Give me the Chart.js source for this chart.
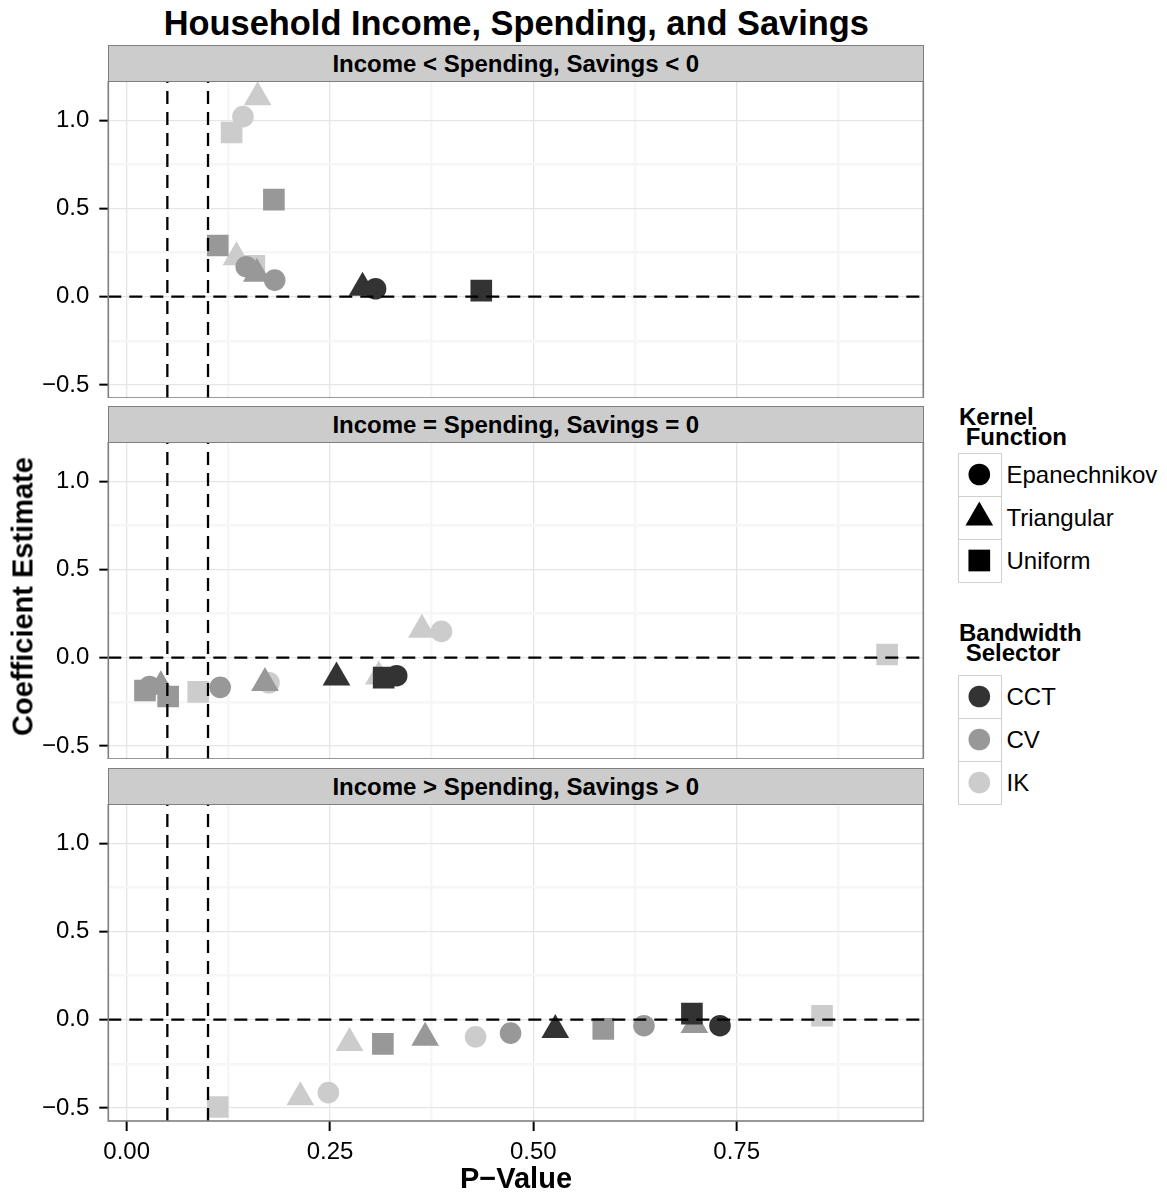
<!DOCTYPE html>
<html>
<head>
<meta charset="utf-8">
<script src="https://cdn.jsdelivr.net/npm/chart.js@4.4.0/dist/chart.umd.min.js"></script>
<style>
  body { margin: 0; background: #fff; }
  #fig { position: relative; width: 1167px; height: 1193px; overflow: hidden; font-family: "Liberation Sans", Arial, sans-serif; color: #000; }
  #fig canvas { position: absolute; left: 0; }
  .txt { position: absolute; white-space: pre; }
  .strip { position: absolute; box-sizing: border-box; border: 1.5px solid #7f7f7f; background: #cccccc; }
  .key { position: absolute; box-sizing: border-box; border: 1.5px solid #d0d0d0; background: #fff; }
  .key svg { position: absolute; left: 0; top: 0; }
</style>
</head>
<body>
<div id="fig"></div>
<script>
// ---- data ----
const stripLabels = ['Income < Spending, Savings < 0', 'Income = Spending, Savings = 0', 'Income > Spending, Savings > 0'];

// Income < Spending
const negPValue   = [0.161, 0.143, 0.129, 0.181, 0.112, 0.135, 0.157, 0.147, 0.160, 0.182, 0.290, 0.306, 0.436];
const negCoef     = [1.13, 1.02, 0.93, 0.55, 0.29, 0.223, 0.175, 0.17, 0.13, 0.094, 0.05, 0.045, 0.034];
const negKernel   = ['T', 'E', 'U', 'U', 'U', 'T', 'U', 'E', 'T', 'E', 'T', 'E', 'U'];
const negSelector = ['IK', 'IK', 'IK', 'CV', 'CV', 'IK', 'IK', 'CV', 'CV', 'CV', 'CCT', 'CCT', 'CCT'];

// Income = Spending
const zeroPValue   = [0.0225, 0.028, 0.042, 0.051, 0.088, 0.115, 0.170, 0.175, 0.258, 0.310, 0.316, 0.332, 0.363, 0.387, 0.935];
const zeroCoef     = [-0.186, -0.164, -0.162, -0.22, -0.194, -0.168, -0.143, -0.142, -0.112, -0.106, -0.113, -0.102, 0.158, 0.149, 0.018];
const zeroKernel   = ['U', 'E', 'T', 'U', 'U', 'E', 'T', 'E', 'T', 'T', 'U', 'E', 'T', 'E', 'U'];
const zeroSelector = ['CV', 'CV', 'CV', 'CV', 'IK', 'CV', 'CV', 'IK', 'CCT', 'IK', 'CCT', 'CCT', 'IK', 'IK', 'IK'];

// Income > Spending
const posPValue   = [0.112, 0.2135, 0.248, 0.274, 0.315, 0.367, 0.429, 0.472, 0.527, 0.586, 0.636, 0.698, 0.695, 0.7295, 0.855];
const posCoef     = [-0.495, -0.44, -0.413, -0.132, -0.137, -0.102, -0.097, -0.076, -0.058, -0.052, -0.034, -0.03, 0.034, -0.034, 0.022];
const posKernel   = ['U', 'T', 'E', 'T', 'U', 'T', 'E', 'E', 'T', 'U', 'E', 'T', 'U', 'E', 'U'];
const posSelector = ['IK', 'IK', 'IK', 'IK', 'CV', 'CV', 'IK', 'CV', 'CCT', 'CV', 'CV', 'CV', 'CCT', 'CCT', 'IK'];

const pCutoffs = [0.05, 0.10];
const zeroLine = 0;
const xRange = [-0.0226, 0.9795];
const yRange = [-0.574, 1.222];

const kernelNames = { E: 'Epanechnikov', T: 'Triangular', U: 'Uniform' };
const selectorNames = ['CCT', 'CV', 'IK'];

// ---- styles ----
const FONT = '"Liberation Sans", Arial, sans-serif';
const kernelShape = { E: 'circle', T: 'triangle', U: 'rect' };
const kernelRadius = { E: 10.8, T: 16, U: 15.3 };
const selectorColor = { CCT: '#333333', CV: '#989898', IK: '#cccccc' };
// first entry ends up on top
const drawOrder = [['CCT', 'U'], ['CCT', 'T'], ['CCT', 'E'], ['CV', 'U'], ['CV', 'T'], ['CV', 'E'], ['IK', 'U'], ['IK', 'T'], ['IK', 'E']];

const panelTops = [81, 442, 804];
const plotHeight = 317;
const xAxisSpace = 62;
const canvasWidth = 940;
const plotLeft = 108.3, plotRight = 923.3;

const fig = document.getElementById('fig');

function addText(txt, x, cy, size, opts) {
  opts = opts || {};
  const d = document.createElement('div');
  const lh = Math.round(size * 1.2);
  d.className = 'txt';
  d.textContent = txt;
  d.style.fontSize = size + 'px';
  d.style.lineHeight = lh + 'px';
  d.style.height = lh + 'px';
  d.style.top = (cy - lh / 2) + 'px';
  d.style.fontWeight = opts.bold ? 'bold' : 'normal';
  if (opts.center) {
    d.style.left = (x - 400) + 'px';
    d.style.width = '800px';
    d.style.textAlign = 'center';
  } else {
    d.style.left = x + 'px';
  }
  if (opts.rotate) d.style.transform = 'rotate(-90deg)';
  fig.appendChild(d);
  return d;
}

function isMajor(v, step) {
  return Math.abs(v / step - Math.round(v / step)) < 1e-6;
}

const refLines = {
  id: 'refLines',
  afterDatasetsDraw(chart) {
    const { ctx, chartArea: a, scales: { x, y } } = chart;
    ctx.save();
    ctx.beginPath();
    ctx.rect(a.left, a.top, a.width, a.height);
    ctx.clip();
    ctx.strokeStyle = '#000';
    ctx.lineWidth = 2.3;
    ctx.setLineDash([13, 8]);
    pCutoffs.forEach(v => {
      const px = x.getPixelForValue(v);
      ctx.beginPath();
      ctx.moveTo(px, a.bottom);
      ctx.lineTo(px, a.top);
      ctx.stroke();
    });
    const py = y.getPixelForValue(zeroLine);
    ctx.beginPath();
    ctx.moveTo(a.left, py);
    ctx.lineTo(a.right, py);
    ctx.stroke();
    ctx.restore();
  },
  afterDraw(chart) {
    const { ctx, chartArea: a } = chart;
    ctx.save();
    ctx.strokeStyle = '#7f7f7f';
    ctx.lineWidth = 1.6;
    ctx.strokeRect(a.left, a.top, a.width, a.height);
    ctx.restore();
  }
};

function makePanel(i, pvals, coefs, kerns, sels) {
  const showX = i === panelTops.length - 1;
  const canvas = document.createElement('canvas');
  canvas.width = canvasWidth;
  canvas.height = plotHeight + (showX ? xAxisSpace : 0);
  canvas.style.top = panelTops[i] + 'px';
  fig.appendChild(canvas);

  const datasets = drawOrder.map(([sel, k]) => {
    const pts = [];
    pvals.forEach((p, j) => {
      if (sels[j] === sel && kerns[j] === k) pts.push({ x: p, y: coefs[j] });
    });
    return {
      label: sel + ' / ' + kernelNames[k],
      data: pts,
      pointStyle: kernelShape[k],
      pointRadius: kernelRadius[k],
      pointHoverRadius: kernelRadius[k],
      backgroundColor: selectorColor[sel],
      borderColor: selectorColor[sel],
      pointBorderWidth: 0,
      borderWidth: 0,
      clip: 0
    };
  });

  new Chart(canvas, {
    type: 'scatter',
    data: { datasets },
    options: {
      responsive: false,
      devicePixelRatio: 1,
      animation: false,
      events: [],
      layout: { autoPadding: false, padding: { left: 0, right: canvasWidth - plotRight, top: 0, bottom: 0 } },
      plugins: { legend: { display: false }, tooltip: { enabled: false } },
      scales: {
        x: {
          type: 'linear',
          min: xRange[0],
          max: xRange[1],
          border: { display: false },
          ticks: {
            display: showX,
            stepSize: 0.125,
            includeBounds: false,
            autoSkip: false,
            maxRotation: 0,
            padding: 7,
            color: '#000',
            font: { family: FONT, size: 24 },
            callback: v => isMajor(v, 0.25) ? v.toFixed(2) : ''
          },
          grid: {
            color: c => isMajor(c.tick.value, 0.25) ? '#e5e5e5' : '#f6f6f6',
            lineWidth: c => isMajor(c.tick.value, 0.25) ? 1.3 : 2.4,
            drawTicks: showX,
            tickLength: 10,
            tickWidth: 2,
            tickColor: c => isMajor(c.tick.value, 0.25) ? '#000' : 'rgba(0,0,0,0)'
          },
          afterFit: s => { s.height = showX ? xAxisSpace : 0; s.paddingLeft = 0; s.paddingRight = 0; }
        },
        y: {
          type: 'linear',
          min: yRange[0],
          max: yRange[1],
          border: { display: false },
          ticks: {
            stepSize: 0.25,
            includeBounds: false,
            padding: 10,
            color: '#000',
            font: { family: FONT, size: 24 },
            callback: v => isMajor(v, 0.5) ? (v < 0 ? '\u2212' : '') + Math.abs(v).toFixed(1) : ''
          },
          grid: {
            color: c => isMajor(c.tick.value, 0.5) ? '#e5e5e5' : '#f6f6f6',
            lineWidth: c => isMajor(c.tick.value, 0.5) ? 1.3 : 2.4,
            tickLength: 9,
            tickWidth: 2,
            tickColor: c => isMajor(c.tick.value, 0.5) ? '#000' : 'rgba(0,0,0,0)'
          },
          afterFit: s => { s.width = plotLeft; s.paddingTop = 0; s.paddingBottom = 0; }
        }
      }
    },
    plugins: [refLines]
  });

  // facet strip
  const strip = document.createElement('div');
  strip.className = 'strip';
  strip.style.left = (plotLeft - 0.8) + 'px';
  strip.style.width = (plotRight - plotLeft + 1.6) + 'px';
  strip.style.top = (panelTops[i] - 36.3) + 'px';
  strip.style.height = '37px';
  fig.appendChild(strip);
  addText(stripLabels[i], (plotLeft + plotRight) / 2, panelTops[i] - 17.9, 24, { bold: true, center: true });
}

makePanel(0, negPValue, negCoef, negKernel, negSelector);
makePanel(1, zeroPValue, zeroCoef, zeroKernel, zeroSelector);
makePanel(2, posPValue, posCoef, posKernel, posSelector);

// titles
addText('Household Income, Spending, and Savings', 516.3, 23.3, 34.4, { bold: true, center: true });
addText('P\u2212Value', 516, 1178, 29, { bold: true, center: true });
addText('Coefficient Estimate', 22.5, 596.5, 29, { bold: true, center: true, rotate: true });

// legends
function keyBox(top, shape, color) {
  const b = document.createElement('div');
  b.className = 'key';
  b.style.left = '958.3px';
  b.style.top = top + 'px';
  b.style.width = '43.6px';
  b.style.height = '44px';
  const cx = 21.8, cy = 22;
  let s;
  if (shape === 'circle') s = '<circle cx="' + cx + '" cy="' + cy + '" r="10.8" fill="' + color + '"/>';
  else if (shape === 'triangle') s = '<polygon points="' + cx + ',' + (cy - 16) + ' ' + (cx + 13.86) + ',' + (cy + 8) + ' ' + (cx - 13.86) + ',' + (cy + 8) + '" fill="' + color + '"/>';
  else s = '<rect x="' + (cx - 10.85) + '" y="' + (cy - 10.85) + '" width="21.7" height="21.7" fill="' + color + '"/>';
  b.innerHTML = '<svg width="44" height="44" viewBox="1.5 1.5 44 44">' + s + '</svg>';
  fig.appendChild(b);
}

addText('Kernel', 959, 416, 24, { bold: true });
addText(' Function', 959, 436.8, 24, { bold: true });
const kernelKeyTops = [453.3, 496.1, 538.9];
['E', 'T', 'U'].forEach((k, j) => {
  keyBox(kernelKeyTops[j], kernelShape[k], '#000');
  addText(kernelNames[k], 1006.5, kernelKeyTops[j] + 21.4, 24);
});

addText('Bandwidth', 959, 632, 24, { bold: true });
addText(' Selector', 959, 652.8, 24, { bold: true });
const selectorKeyTops = [675, 717.8, 760.6];
selectorNames.forEach((sel, j) => {
  keyBox(selectorKeyTops[j], 'circle', selectorColor[sel]);
  addText(sel, 1006.5, selectorKeyTops[j] + 21.4, 24);
});
</script>
</body>
</html>
